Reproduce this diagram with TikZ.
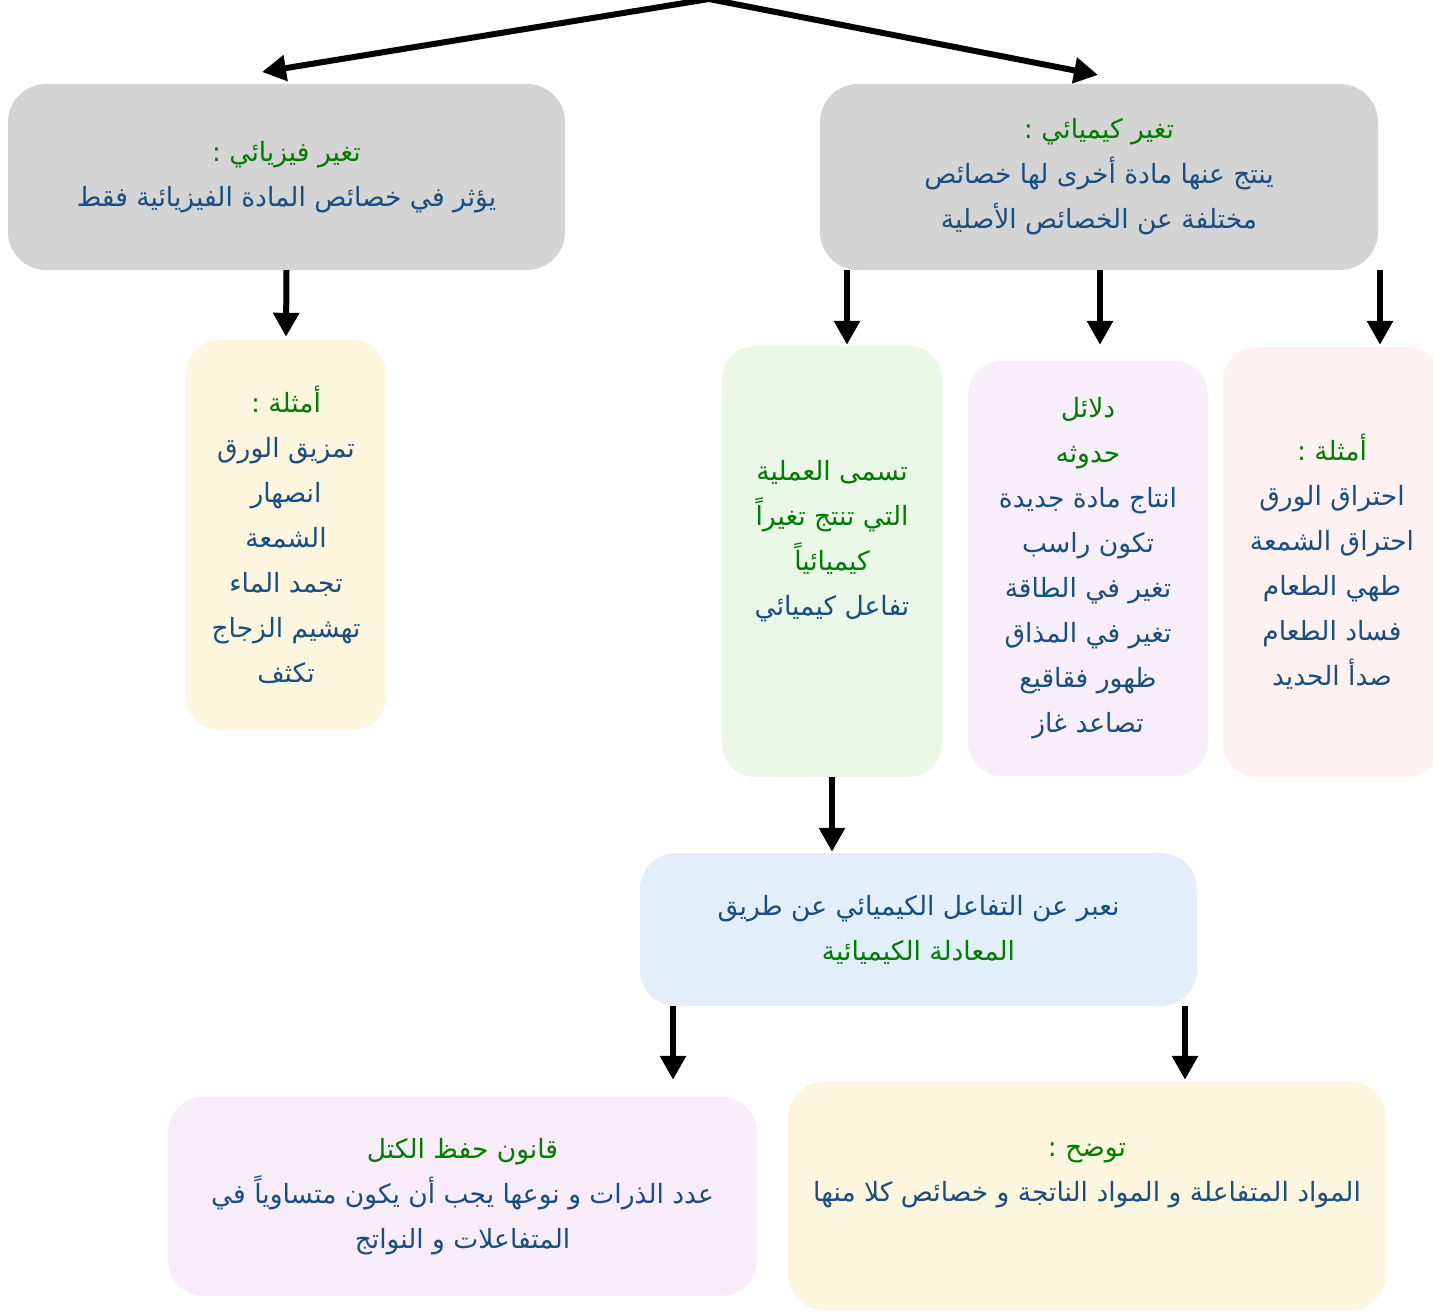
\documentclass[tikz,border=0pt]{standalone}
\usepackage{fontspec}
\newfontfamily\arabicfont[Script=Arabic]{DejaVu Sans}
\TeXXeTstate=1
\usetikzlibrary{arrows.meta}
\definecolor{tgreen}{RGB}{0,125,0}
\definecolor{tblue}{RGB}{25,78,128}
\definecolor{cgray}{RGB}{212,212,212}
\definecolor{cyel}{RGB}{253,246,222}
\definecolor{cgreen}{RGB}{234,247,230}
\definecolor{cpurp}{RGB}{248,238,250}
\definecolor{cpink}{RGB}{254,241,241}
\definecolor{cblue}{RGB}{226,238,250}
\definecolor{clav}{RGB}{247,236,248}
\newcommand\GL[1]{\textcolor{tgreen}{\beginR #1\endR}}
\newcommand\BL[1]{\textcolor{tblue}{\beginR #1\endR}}
\tikzset{
  box/.style={rectangle, rounded corners=38pt, inner sep=0pt, align=center,
    font=\arabicfont\fontsize{26.5}{45}\selectfont},
  arr/.style={line width=6pt, -{Triangle[length=24pt,width=25pt]}},
  lbl/.style={inner sep=0pt, align=center, font=\arabicfont\fontsize{26.5}{45}\selectfont}
}
\begin{document}
\begin{tikzpicture}[x=1pt,y=-1pt]
\useasboundingbox (0,0) rectangle (1433,1314);
\fill[white] (0,0) rectangle (1433,1314);
% top level boxes
\node[box, fill=cgray, minimum width=557pt, minimum height=186pt] (lg) at (286.5,177)
  {\GL{تغير فيزيائي :}\\\BL{يؤثر في خصائص المادة الفيزيائية فقط}};
\node[box, fill=cgray, minimum width=558pt, minimum height=186pt] (rg) at (1099,177)
  {\GL{تغير كيميائي :}\\\BL{ينتج عنها مادة أخرى لها خصائص}\\\BL{مختلفة عن الخصائص الأصلية}};
% second level
\node[box, fill=cyel, rounded corners=34pt, minimum width=200pt, minimum height=390pt] (ly) at (286,535)
  {\GL{أمثلة :}\\\BL{تمزيق الورق}\\\BL{انصهار}\\\BL{الشمعة}\\\BL{تجمد الماء}\\\BL{تهشيم الزجاج}\\\BL{تكثف}};
\node[box, fill=cgreen, rounded corners=34pt, minimum width=220pt, minimum height=431pt] (gb) at (832,561.5) {};
\node[lbl] (gt) at (832,541)
  {\GL{تسمى العملية}\\\GL{التي تنتج تغيراً}\\\GL{كيميائياً}\\\BL{تفاعل كيميائي}};
\node[box, fill=cpurp, rounded corners=34pt, minimum width=240pt, minimum height=415pt] (pb) at (1088,568.5)
  {\GL{دلائل}\\\GL{حدوثه}\\\BL{انتاج مادة جديدة}\\\BL{تكون راسب}\\\BL{تغير في الطاقة}\\\BL{تغير في المذاق}\\\BL{ظهور فقاقيع}\\\BL{تصاعد غاز}};
\node[box, fill=cpink, rounded corners=34pt, minimum width=218pt, minimum height=430pt] (kb) at (1332,562)
  {\GL{أمثلة :}\\\BL{احتراق الورق}\\\BL{احتراق الشمعة}\\\BL{طهي الطعام}\\\BL{فساد الطعام}\\\BL{صدأ الحديد}};
% third level
\node[box, fill=cblue, rounded corners=36pt, minimum width=557pt, minimum height=153pt] (bb) at (918.5,929.5)
  {\BL{نعبر عن التفاعل الكيميائي عن طريق}\\\GL{المعادلة الكيميائية}};
% bottom
\node[box, fill=clav, rounded corners=36pt, minimum width=589pt, minimum height=199pt] (lv) at (462.5,1196.5)
  {\GL{قانون حفظ الكتل}\\\BL{عدد الذرات و نوعها يجب أن يكون متساوياً في}\\\BL{المتفاعلات و النواتج}};
\node[box, fill=cyel, rounded corners=36pt, minimum width=598pt, minimum height=228pt] (yb) at (1087,1196) {};
\node[lbl] (yt) at (1087,1175)
  {\GL{توضح :}\\\BL{المواد المتفاعلة و المواد الناتجة و خصائص كلا منها}};
% connectors
\coordinate (top) at (709,-1);
\coordinate (tl) at (262,72);
\coordinate (tr) at (1098,75);
\draw[arr] (top) -- (tl);
\draw[arr] (top) -- (tr);
\draw[arr, shorten >=3pt] (lg.south) -- (ly.north);
\draw[arr, shorten >=1pt] (rg.south -| 847,0) -- (gb.north -| 847,0);
\draw[arr, shorten >=16pt] (rg.south -| 1100,0) -- (pb.north -| 1100,0);
\draw[arr, shorten >=2pt] (rg.south -| 1380,0) -- (kb.north -| 1380,0);
\draw[arr, shorten >=1pt] (gb.south) -- (bb.north -| gb.south);
\draw[arr, shorten >=17pt] (bb.south -| 673,0) -- (lv.north -| 673,0);
\draw[arr, shorten >=2pt] (bb.south -| 1185,0) -- (yb.north -| 1185,0);
\end{tikzpicture}
\end{document}
